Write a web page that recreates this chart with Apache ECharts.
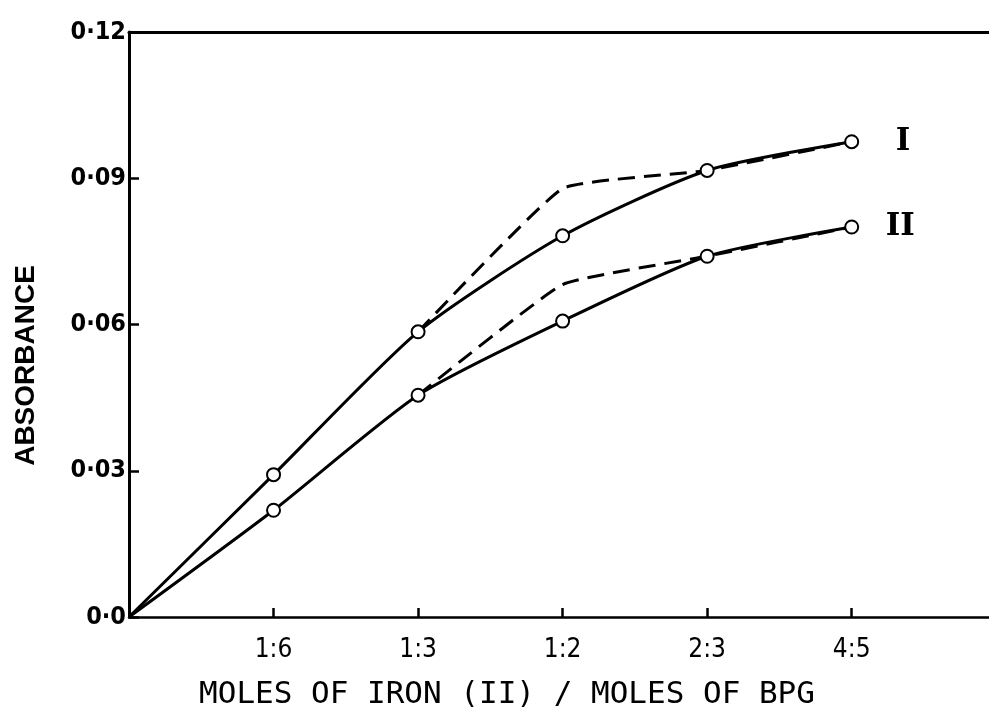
<!DOCTYPE html>
<html>
<head>
<meta charset="utf-8">
<script src="https://cdn.jsdelivr.net/npm/echarts@6/dist/echarts.min.js"></script>
<style>
  html, body { margin: 0; padding: 0; background: #fff; }
  #chart { width: 989px; height: 715px; }
</style>
</head>
<body>
<div id="chart"></div>
<script>
// x positions of the mole ratios (0 = origin)
const ratioPos = [0, 1, 2, 3, 4, 5];
const ratioLabels = ['', '1:6', '1:3', '1:2', '2:3', '4:5'];
const yTickLabels = ['0·0', '0·03', '0·06', '0·09', '0·12'];

// measured absorbance, curves I and II
const absI = [0, 0.0292, 0.0585, 0.0782, 0.0916, 0.0975];
const absII = [0, 0.0219, 0.0455, 0.0607, 0.0740, 0.0800];
// dashed (theoretical) lines
const dashI = [null, null, 0.0585, 0.0879, 0.0916, 0.0975];
const dashII = [null, null, 0.0455, 0.0682, 0.0740, 0.0800];

const pairs = (ys) => ratioPos.map((x, i) => [x, ys[i]]);

const chart = echarts.init(document.getElementById('chart'));

const solid = (name, ys, labelGap) => ({
  name,
  type: 'line',
  data: pairs(ys),
  z: 3,
  smooth: 0.22,
  symbol: (v, p) => (p.dataIndex === 0 ? 'none' : 'emptyCircle'),
  symbolSize: 13,
  lineStyle: { color: '#000', width: 3 },
  itemStyle: { color: '#000', borderColor: '#000', borderWidth: 2.5 },
  endLabel: {
    show: true,
    formatter: name,
    distance: labelGap,
    color: '#000',
    fontFamily: 'DejaVu Serif',
    fontWeight: 'bold',
    fontSize: 31
  }
});

const dashed = (ys) => ({
  type: 'line',
  data: pairs(ys),
  z: 2,
  smooth: 0.12,
  showSymbol: false,
  lineStyle: { color: '#000', width: 3, type: [17, 9] }
});

const xMax = 5.95;

chart.setOption({
  animation: false,
  backgroundColor: '#fff',
  grid: { left: 129, right: 0, top: 32, bottom: 92 },
  xAxis: [{
    type: 'value',
    min: 0, max: xMax, interval: 1,
    name: 'MOLES OF IRON (II) / MOLES OF BPG',
    nameLocation: 'middle',
    nameGap: 62,
    nameTextStyle: {
      fontFamily: 'DejaVu Sans Mono', fontSize: 31, color: '#000',
      padding: [0, 104, 0, 0]
    },
    axisLine: { lineStyle: { color: '#000', width: 2.5 } },
    axisTick: {
      inside: true, length: 9, customValues: [1, 2, 3, 4, 5],
      lineStyle: { color: '#000', width: 2.5 }
    },
    axisLabel: {
      customValues: [1, 2, 3, 4, 5],
      formatter: (v) => ratioLabels[v] || '',
      margin: 20,
      color: '#000',
      fontFamily: 'DejaVu Sans Condensed',
      fontSize: 26
    },
    splitLine: { show: false }
  }, {
    type: 'value',
    position: 'top',
    min: 0, max: xMax,
    axisLine: { show: true, onZero: false, lineStyle: { color: '#000', width: 3 } },
    axisTick: { show: false },
    axisLabel: { show: false },
    splitLine: { show: false }
  }],
  yAxis: {
    type: 'value',
    min: 0, max: 0.12, interval: 0.03,
    name: 'ABSORBANCE',
    nameLocation: 'middle',
    nameGap: 89,
    nameTextStyle: {
      fontFamily: 'Liberation Sans', fontWeight: 'bold', fontSize: 28, color: '#000',
      padding: [0, 82, 0, 0]
    },
    axisLine: { lineStyle: { color: '#000', width: 3 } },
    axisTick: { inside: true, length: 10, lineStyle: { color: '#000', width: 2.5 } },
    axisLabel: {
      formatter: (v) => yTickLabels[Math.round(v / 0.03)],
      margin: 3,
      color: '#000',
      fontFamily: 'DejaVu Sans Condensed',
      fontWeight: 'bold',
      fontSize: 25
    },
    splitLine: { show: false }
  },
  series: [
    dashed(dashI),
    dashed(dashII),
    solid('I', absI, 44),
    solid('II', absII, 34)
  ]
});
</script>
</body>
</html>
